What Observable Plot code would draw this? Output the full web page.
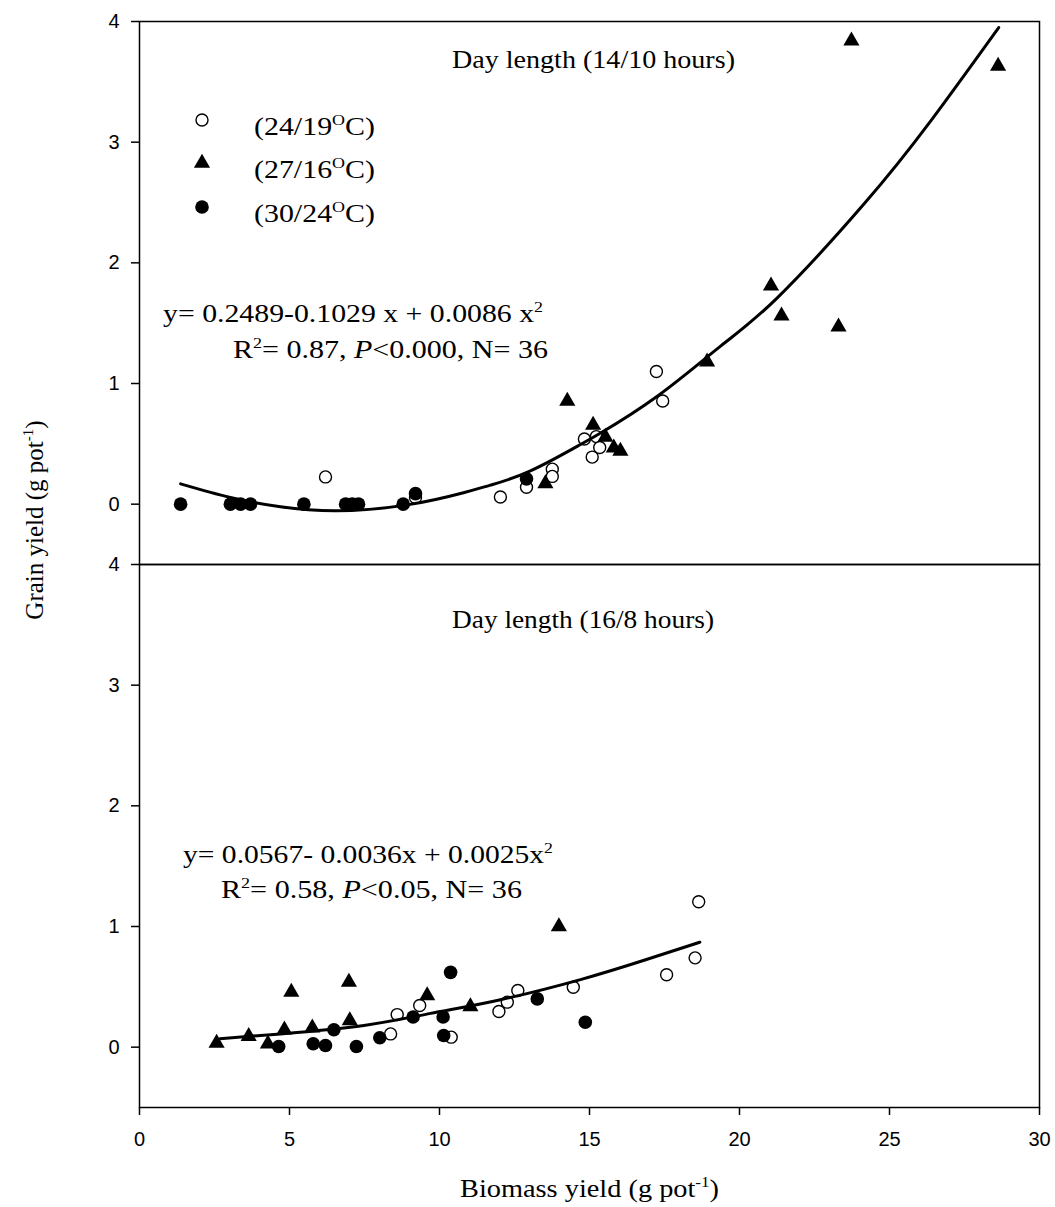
<!DOCTYPE html>
<html><head><meta charset="utf-8">
<script src="https://cdn.jsdelivr.net/npm/d3@7"></script>
<script src="https://cdn.jsdelivr.net/npm/@observablehq/plot@0.6"></script>
<style>
body{margin:0;background:#fff;}
#wrap{position:relative;width:1055px;height:1207px;}
</style></head><body><div id="wrap"></div>
<script>
// ---- data ----
const panels = ["14/10", "16/8"];
const xTicks = [0, 5, 10, 15, 20, 25, 30];
const yTicks = [0, 1, 2, 3, 4];

// Day length 14/10 hours
const topOpenX = [6.2, 9.2, 12.03, 12.9, 13.76, 13.76, 14.83, 15.09, 15.23, 15.34, 17.23, 17.44];
const topOpenY = [0.226, 0.055, 0.06, 0.14, 0.29, 0.23, 0.54, 0.39, 0.56, 0.47, 1.10, 0.855];
const topTriX = [13.53, 14.26, 15.12, 15.53, 15.81, 16.03, 18.92, 21.05, 21.4, 23.3, 23.73, 28.62];
const topTriY = [0.17, 0.855, 0.655, 0.556, 0.467, 0.44, 1.18, 1.81, 1.56, 1.47, 3.84, 3.63];
const topFillX = [1.37, 3.03, 3.37, 3.70, 5.48, 6.87, 7.09, 7.30, 8.79, 9.2, 12.9];
const topFillY = [0, 0, 0, 0, 0, 0, 0, 0, 0, 0.087, 0.21];
const topFitX = [1.37, 3.03, 4.7, 6.59, 8.92, 10.8, 11.7, 13.03, 14.7, 15.37, 17.26, 19.37, 21.26, 24.14, 26.37, 28.64];
const topFitY = [0.168, 0.055, -0.022, -0.055, -0.006, 0.095, 0.158, 0.276, 0.495, 0.59, 0.895, 1.31, 1.71, 2.485, 3.175, 3.95];

// Day length 16/8 hours
const botOpenX = [8.37, 8.59, 9.34, 10.39, 11.98, 12.26, 12.61, 14.46, 17.57, 18.52, 18.64];
const botOpenY = [0.11, 0.27, 0.345, 0.083, 0.296, 0.373, 0.47, 0.497, 0.60, 0.74, 1.205];
const botTriX = [2.57, 3.64, 4.28, 4.83, 5.06, 5.76, 6.98, 7.01, 9.59, 11.03, 13.98];
const botTriY = [0.033, 0.089, 0.028, 0.144, 0.456, 0.161, 0.539, 0.221, 0.428, 0.337, 1.0];
const botFillX = [4.64, 5.79, 6.2, 6.48, 7.23, 8.01, 9.12, 10.12, 10.14, 10.37, 13.26, 14.86];
const botFillY = [0.006, 0.028, 0.014, 0.144, 0.006, 0.078, 0.25, 0.25, 0.097, 0.62, 0.40, 0.207];
const botFitX = [2.68, 4.7, 7.48, 9.7, 11.92, 14.7, 16.82, 18.68];
const botFitY = [0.07, 0.11, 0.18, 0.28, 0.387, 0.56, 0.72, 0.87];

const rows = (xs, ys, panel) => xs.map((x, i) => ({x, y: ys[i], panel}));
const openPts = [...rows(topOpenX, topOpenY, panels[0]), ...rows(botOpenX, botOpenY, panels[1])];
const triPts = [...rows(topTriX, topTriY, panels[0]), ...rows(botTriX, botTriY, panels[1])];
const fillPts = [...rows(topFillX, topFillY, panels[0]), ...rows(botFillX, botFillY, panels[1])];
const fitPts = [...rows(topFitX, topFitY, panels[0]), ...rows(botFitX, botFitY, panels[1])];

const tickFont = "'Liberation Sans Narrow','Arial Narrow','Liberation Sans',Arial,sans-serif";
const serif = "'Liberation Serif','Times New Roman',serif";

const plot = Plot.plot({
  width: 1055, height: 1207,
  marginTop: 20, marginBottom: 100, marginLeft: 139, marginRight: 16,
  style: {background: "white", fontFamily: tickFont, fontSize: "20px", color: "black", overflow: "visible"},
  x: {domain: [0, 30]},
  y: {domain: [-0.5, 4]},
  fy: {domain: panels, padding: 0, axis: null},
  marks: [
    Plot.axisY(yTicks, {tickSize: 8, tickPadding: 12, strokeWidth: 1.5, label: null, tickFormat: d => d, fontSize: 20}),
    Plot.axisX(xTicks, {tickSize: 8, tickPadding: 16, strokeWidth: 1.5, label: null, tickFormat: d => d, fontSize: 20}),
    Plot.dot(openPts, {x: "x", y: "y", fy: "panel", r: 6, fill: "white", stroke: "black", strokeWidth: 1.4}),
    Plot.dot(triPts, {x: "x", y: "y", fy: "panel", symbol: "triangle", r: 6, fill: "black", stroke: "none"}),
    Plot.dot(fillPts, {x: "x", y: "y", fy: "panel", r: 6.8, fill: "black", stroke: "none"}),
    Plot.line(fitPts, {x: "x", y: "y", fy: "panel", z: "panel", curve: "natural", stroke: "black", strokeWidth: 3}),
    Plot.frame({stroke: "black", strokeWidth: 1.5})
  ]
});
document.getElementById("wrap").appendChild(plot);

const svg = d3.select(plot);
// tick label size (SigmaPlot-style, slightly larger narrow sans)
svg.selectAll("g[aria-label='y-axis tick label'], g[aria-label='x-axis tick label']")
  .attr("font-size", 20).style("font-size", "20px")
  .selectAll("text").attr("font-size", 20).style("font-size", "20px");

// ---- annotations, legend, axis titles ----
const g = svg.append("g").attr("font-family", serif).attr("font-size", 25).attr("fill", "black").attr("text-anchor", "start");

function label(x, y, width, parts, opts = {}) {
  const t = g.append("text").attr("x", x).attr("y", y).attr("text-anchor", opts.anchor || "start");
  if (width) t.attr("textLength", width).attr("lengthAdjust", "spacingAndGlyphs");
  if (opts.transform) t.attr("transform", opts.transform);
  for (const p of parts) {
    const s = t.append("tspan").text(p.t);
    if (p.sup) s.attr("dy", -10).attr("font-size", 15);
    if (p.after) s.attr("dy", 10);
    if (p.i) s.attr("font-style", "italic");
  }
  return t;
}

label(452, 68, 283, [{t: "Day length (14/10 hours)"}]);
label(452, 628, 262, [{t: "Day length (16/8 hours)"}]);

const legendItems = [
  {sym: "open", t: "24/19", y: 135},
  {sym: "tri", t: "27/16", y: 178},
  {sym: "fill", t: "30/24", y: 222}
];
for (const it of legendItems) {
  label(254, it.y, 121, [{t: "(" + it.t}, {t: "O", sup: true}, {t: "C)", after: true}]);
  const cy = it.y - 15;
  if (it.sym === "open") g.append("circle").attr("cx", 202).attr("cy", cy).attr("r", 6).attr("fill", "white").attr("stroke", "black").attr("stroke-width", 1.4);
  if (it.sym === "fill") g.append("circle").attr("cx", 202).attr("cy", cy).attr("r", 6.8).attr("fill", "black");
  if (it.sym === "tri") g.append("path").attr("transform", `translate(202,${cy})`).attr("d", d3.symbol(d3.symbolTriangle, Math.PI * 36)()).attr("fill", "black");
}

label(163, 322, 380, [{t: "y= 0.2489-0.1029 x + 0.0086 x"}, {t: "2", sup: true}]);
label(233, 358, 315, [{t: "R"}, {t: "2", sup: true}, {t: "= 0.87, ", after: true}, {t: "P", i: true}, {t: "<0.000, N= 36"}]);
label(183, 863, 370, [{t: "y= 0.0567- 0.0036x + 0.0025x"}, {t: "2", sup: true}]);
label(221, 898, 301, [{t: "R"}, {t: "2", sup: true}, {t: "= 0.58, ", after: true}, {t: "P", i: true}, {t: "<0.05, N= 36"}]);

label(460, 1197, 259, [{t: "Biomass yield (g pot"}, {t: "-1", sup: true}, {t: ")", after: true}]);
label(0, 0, null, [{t: "Grain yield (g pot"}, {t: "-1", sup: true}, {t: ")", after: true}], {transform: "translate(43,520) rotate(-90)", anchor: "middle"});
</script>
</body></html>
